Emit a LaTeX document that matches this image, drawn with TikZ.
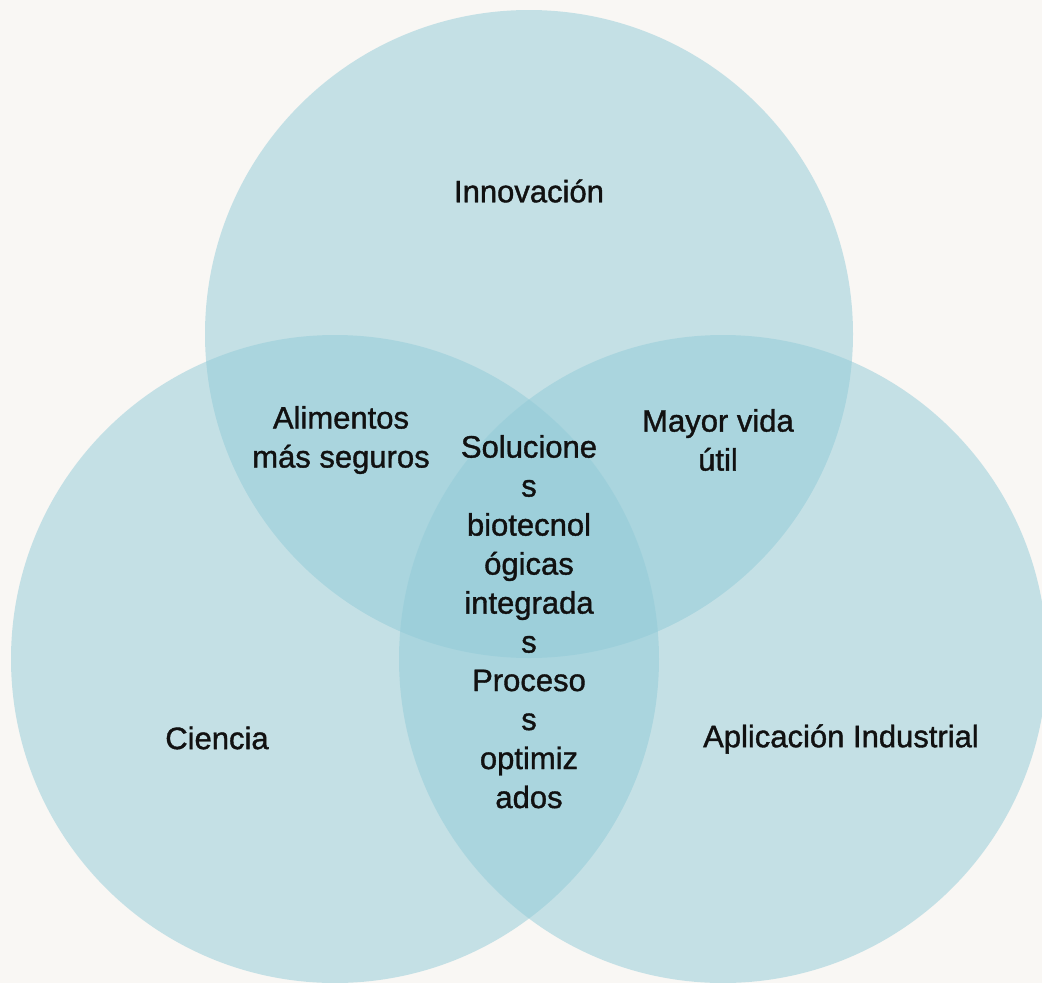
\documentclass[tikz,border=0pt]{standalone}
\usepackage{fontspec}
\setmainfont{Liberation Sans}[FakeBold=1.2]
\definecolor{bgc}{RGB}{249,247,244}
\definecolor{circc}{RGB}{145,203,216}
\definecolor{txtc}{RGB}{17,17,17}
\begin{document}
\begin{tikzpicture}[x=1pt,y=-1pt,
  venn/.style={fill=circc,fill opacity=0.5,draw=none},
  lbl/.style={text=txtc,align=center,inner sep=0pt,font=\fontsize{31}{39}\selectfont}]
\fill[bgc] (0,0) rectangle (1042,983);
\useasboundingbox (0,0) rectangle (1042,983);
\begin{scope}
\clip (0,0) rectangle (1042,983);
\fill[venn] (529,334) circle[radius=324];
\fill[venn] (335,659) circle[radius=324];
\fill[venn] (723,659) circle[radius=324];
\end{scope}
\node[lbl] (inn) at (529,191) {Innovación};
\node[lbl] (cie) at (217,738) {Ciencia};
\node[lbl] (apl) at (841,739) {Aplicación Industrial};
\node[lbl] (ali) at (341,440) {Alimentos\\más seguros};
\node[lbl] (may) at (718,440) {Mayor vida\\útil};
\node[lbl] (sol) at (529,544) {Solucione\\s\\biotecnol\\ógicas\\integrada\\s};
\node[lbl] (pro) at (529,739) {Proceso\\s\\optimiz\\ados};
\end{tikzpicture}
\end{document}
